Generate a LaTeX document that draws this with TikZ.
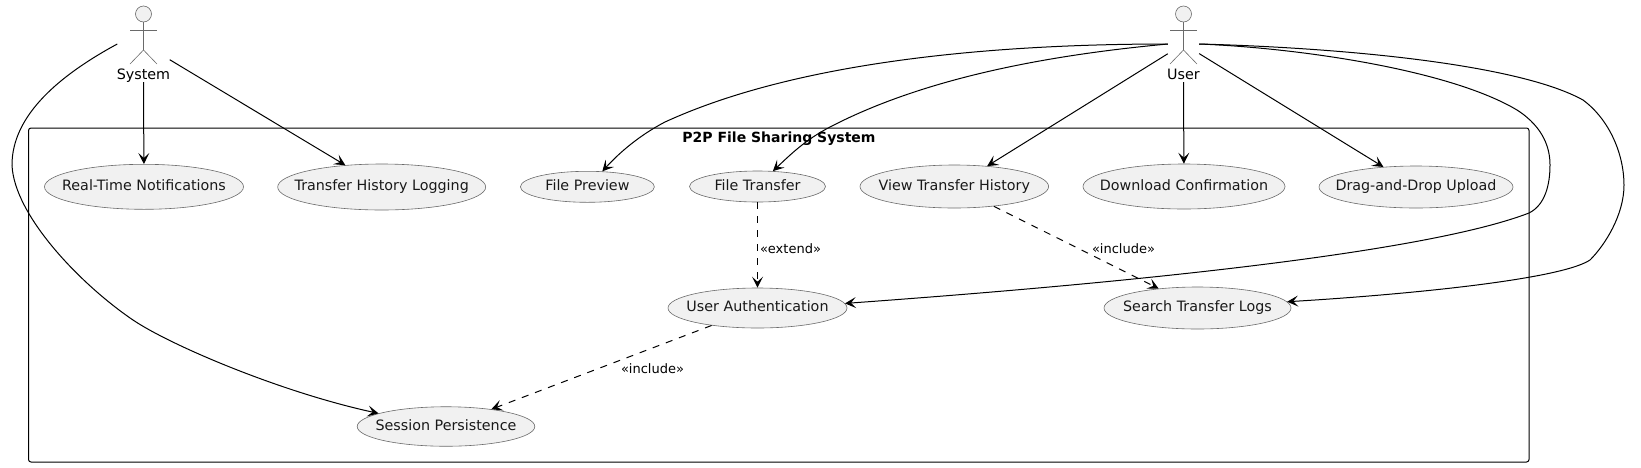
\documentclass[tikz,border=0pt]{standalone}
\usepackage{fontspec}
\setmainfont{DejaVu Sans}
\usetikzlibrary{shapes.geometric, arrows.meta}
\definecolor{ucfill}{HTML}{F1F1F1}
\definecolor{ucline}{HTML}{6A6A6A}
\tikzstyle{usecase} = [ellipse, draw=ucline, line width=0.6pt, fill=ucfill, inner sep=0pt, text=black!90, font=\fontsize{14.3}{16}\selectfont, text height=10.5pt, text depth=3pt, execute at begin node={\hbox to 0pt\bgroup\hss}, execute at end node={\hss\egroup}]
\tikzstyle{actor} = [rectangle, minimum height=76pt, inner sep=0pt]
\tikzstyle{actorlabel} = [anchor=south, inner sep=0pt, text=black, font=\fontsize{14.3}{16}\selectfont, text height=10.5pt, text depth=3pt]
\tikzstyle{boundary} = [rectangle, rounded corners=2.5pt, draw=black, line width=1pt, inner sep=0pt]
\tikzstyle{stick} = [draw=ucline, line width=0.6pt]
\tikzstyle{arrow} = [line width=1pt,-{Stealth[length=11pt,width=11pt,inset=5pt]}]
\tikzstyle{dasharrow} = [arrow, dash pattern=on 7pt off 7pt]
\tikzstyle{rel} = [inner sep=0pt, font=\fontsize{13}{15}\selectfont, text height=10pt, text depth=3pt]
\newcommand{\stickman}[1]{
  \draw [stick, fill=ucfill] ([yshift=30pt]#1.center) circle (8pt);
  \draw [stick] ([yshift=22pt]#1.center) -- ([yshift=-6pt]#1.center);
  \draw [stick] ([xshift=-13.5pt,yshift=14pt]#1.center) -- ([xshift=13.5pt,yshift=14pt]#1.center);
  \draw [stick] ([xshift=-13.5pt,yshift=-20pt]#1.center) -- ([yshift=-6pt]#1.center) -- ([xshift=13.5pt,yshift=-20pt]#1.center);
}
\begin{document}
\begin{tikzpicture}[x=1pt, y=-1pt]
\useasboundingbox (0,0) rectangle (1641,467);

% Boundary
\node (p2p) [boundary, minimum width=1500.5pt, minimum height=334pt] at (778.75,295) {};
\node (p2ptitle) [inner sep=0pt, font=\fontsize{14}{16}\selectfont\bfseries] at (779,139) {P2P File Sharing System};

% Actors
\node (system) [actor, minimum width=52pt] at (143.5,44) {};
\node (user) [actor, minimum width=31pt] at (1183.5,44) {};
\node (systemlabel) [actorlabel] at (system.south) {System};
\node (userlabel) [actorlabel] at (user.south) {User};
\stickman{system}
\stickman{user}

% Use cases
\node (notify) [usecase, minimum width=199pt, minimum height=45pt] at (144,186.8) {Real-Time Notifications};
\node (logging) [usecase, minimum width=208pt, minimum height=46pt] at (381.7,187) {Transfer History Logging};
\node (preview) [usecase, minimum width=134pt, minimum height=31pt] at (587.4,186.8) {File Preview};
\node (transfer) [usecase, minimum width=136pt, minimum height=31pt] at (757.5,186.5) {File Transfer};
\node (history) [usecase, minimum width=188.6pt, minimum height=43pt] at (954.3,186.5) {View Transfer History};
\node (confirm) [usecase, minimum width=202pt, minimum height=45pt] at (1184,186.5) {Download Confirmation};
\node (upload) [usecase, minimum width=194pt, minimum height=42pt] at (1416,187) {Drag-and-Drop Upload};
\node (auth) [usecase, minimum width=179pt, minimum height=40pt] at (757.5,308) {User Authentication};
\node (search) [usecase, minimum width=187pt, minimum height=42pt] at (1197.5,308) {Search Transfer Logs};
\node (session) [usecase, minimum width=177.6pt, minimum height=39.5pt] at (446,426.5) {Session Persistence};

% Arrows
\draw [arrow] (system.south) -- (notify);
\draw [arrow] (system) -- (logging);
\draw [arrow] (system.west) .. controls (60,75) and (12,115) .. (12,165) .. controls (14,215) and (80,284) .. (133,320) .. controls (170,345) and (280,392) .. (session.169);
\draw [arrow] (user.west) .. controls (1000,44) and (800,60) .. (665,122) .. controls (640,135) and (620,152) .. (preview.46);
\draw [arrow] (user.west) .. controls (1060,54) and (930,75) .. (830,127) .. controls (805,140) and (790,155) .. (transfer.45);
\draw [arrow] (user) -- (history);
\draw [arrow] (user.south) -- (confirm);
\draw [arrow] (user) -- (upload);
\draw [arrow] (user.east) .. controls (1300,48) and (1450,70) .. (1517,110) .. controls (1545,128) and (1550,150) .. (1550,165) .. controls (1550,185) and (1545,205) .. (1529,213) .. controls (1420,255) and (1100,285) .. (auth.3);
\draw [arrow] (user.east) .. controls (1350,48) and (1520,65) .. (1583,100) .. controls (1610,120) and (1624,155) .. (1624,185) .. controls (1624,215) and (1605,245) .. (1590,260) .. controls (1560,280) and (1400,295) .. (search.4);
\draw [dasharrow] (transfer) -- node [rel, pos=0.5, anchor=west, xshift=2pt, yshift=-5pt] {«extend»} (auth);
\draw [dasharrow] (history) -- (search);
\draw [dasharrow] (auth) -- (session);

% Labels
\node (includea) [rel] at (1123.5,250) {«include»};
\node (includeb) [rel] at (652.5,369.5) {«include»};
\end{tikzpicture}
\end{document}
